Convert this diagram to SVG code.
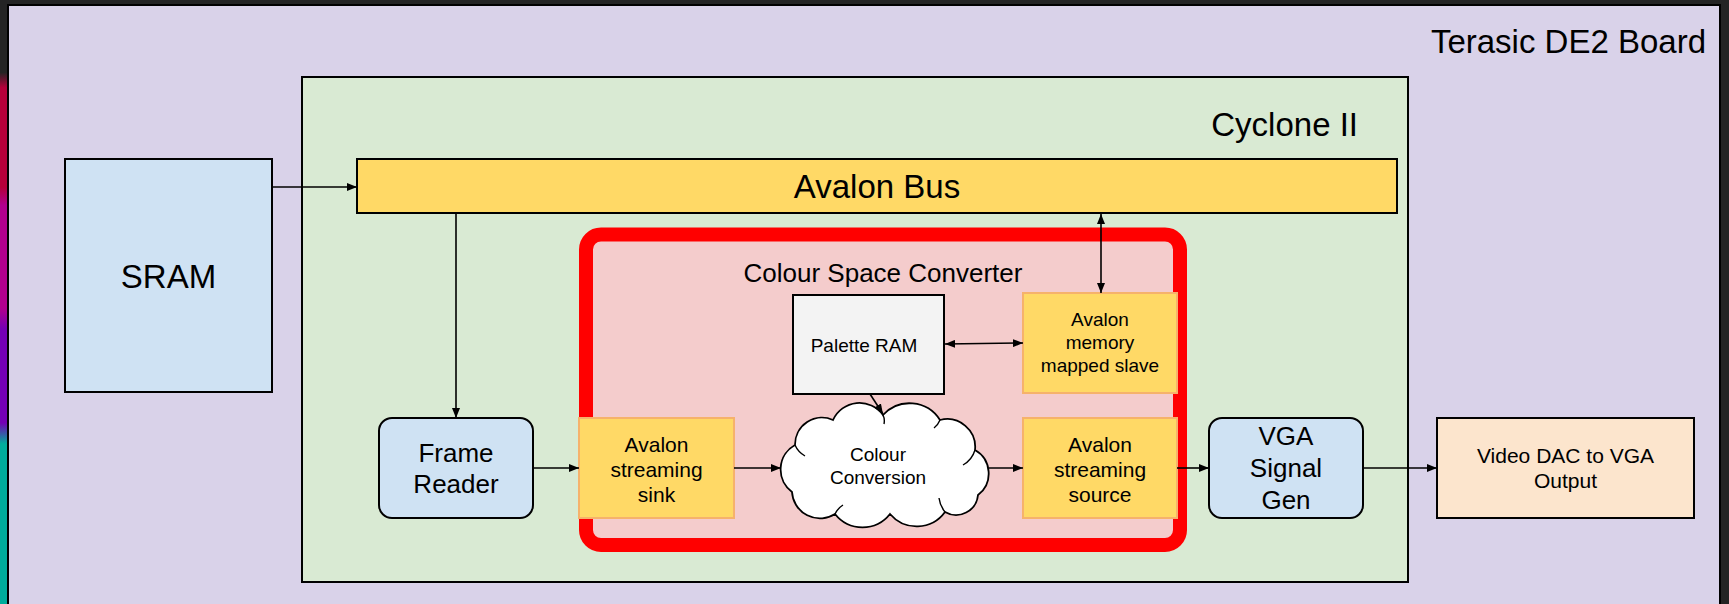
<svg xmlns="http://www.w3.org/2000/svg" width="1729" height="604" viewBox="0 0 1729 604">
<defs>
  <linearGradient id="strip" x1="0" y1="0" x2="0" y2="1">
    <stop offset="0" stop-color="#242424"/>
    <stop offset="0.12" stop-color="#242424"/>
    <stop offset="0.145" stop-color="#b5003a"/>
    <stop offset="0.31" stop-color="#b5003a"/>
    <stop offset="0.34" stop-color="#b2008e"/>
    <stop offset="0.51" stop-color="#b2008e"/>
    <stop offset="0.545" stop-color="#7400b4"/>
    <stop offset="0.70" stop-color="#7400b4"/>
    <stop offset="0.735" stop-color="#00ad9c"/>
    <stop offset="1" stop-color="#00ad9c"/>
  </linearGradient>
  <marker id="arr" viewBox="0 0 10 8" refX="10" refY="4" markerWidth="10" markerHeight="8" markerUnits="userSpaceOnUse" orient="auto-start-reverse">
    <path d="M0,0 L10,4 L0,8 z" fill="#000"/>
  </marker>
</defs>
<style>
  .t { font-family: "Liberation Sans", Arial, sans-serif; fill: #000; text-anchor: middle; }
  .box { stroke: #000; stroke-width: 2; }
  .blue { fill: #cfe2f3; }
  .yel { fill: #ffd966; }
  .ylo { fill: #ffd966; stroke: #f6b26b; stroke-width: 2; }
  .con { fill: none; stroke: #000; stroke-width: 1.6; }
</style>
<rect x="0" y="0" width="1729" height="604" fill="#242424"/>
<rect x="0" y="0" width="8" height="604" fill="url(#strip)"/>

<g id="board">
  <rect x="8" y="5" width="1712" height="620" fill="#d9d2e9" class="box"/>
  <text class="t" x="1706" y="53" font-size="33" style="text-anchor:end">Terasic DE2 Board</text>
</g>

<g id="cyclone">
  <rect x="302" y="77" width="1106" height="505" fill="#d9ead3" class="box"/>
  <text class="t" x="1358" y="136" font-size="33" style="text-anchor:end">Cyclone II</text>
</g>

<g id="sram">
  <rect x="65" y="159" width="207" height="233" class="box blue"/>
  <text class="t" x="168.5" y="288" font-size="33">SRAM</text>
</g>

<g id="avalon-bus">
  <rect x="357" y="159" width="1040" height="54" class="box yel"/>
  <text class="t" x="877" y="198" font-size="33">Avalon Bus</text>
</g>

<g id="csc">
  <rect x="586" y="234.5" width="594" height="310.5" rx="15" ry="15" fill="#f4cccc" stroke="#ff0000" stroke-width="14"/>
  <text class="t" x="883" y="282" font-size="26">Colour Space Converter</text>
</g>

<g id="palette-ram">
  <rect x="793" y="295" width="151" height="99" fill="#f3f3f3" class="box"/>
  <text class="t" x="864" y="352" font-size="19">Palette RAM</text>
</g>

<g id="mm-slave">
  <rect x="1023" y="293" width="154" height="100" class="ylo"/>
  <text class="t" x="1100" y="326" font-size="19">Avalon</text>
  <text class="t" x="1100" y="349" font-size="19">memory</text>
  <text class="t" x="1100" y="372" font-size="19">mapped slave</text>
</g>

<g id="frame-reader">
  <rect x="379" y="418" width="154" height="100" rx="13" ry="13" class="box blue"/>
  <text class="t" x="456" y="462" font-size="26">Frame</text>
  <text class="t" x="456" y="493" font-size="26">Reader</text>
</g>

<g id="st-sink">
  <rect x="579" y="418" width="155" height="100" class="ylo"/>
  <text class="t" x="656.5" y="452" font-size="21">Avalon</text>
  <text class="t" x="656.5" y="477" font-size="21">streaming</text>
  <text class="t" x="656.5" y="502" font-size="21">sink</text>
</g>

<g id="colour-conversion">
  <path d="M792,492 A28,28 0 0 1 795,445 A27,27 0 0 1 833,420 A29,29 0 0 1 883,415 A36,36 0 0 1 940,420 A28,28 0 0 1 975,450 A27,27 0 0 1 978,495 A22,22 0 0 1 945,512 A35,35 0 0 1 890,514 A35,35 0 0 1 835,514 A28,28 0 0 1 792,492 Z" fill="#ffffff" stroke="#000" stroke-width="1.8"/>
  <path d="M795,445 Q798,452 805,456 M883,415 Q885,419 884,424 M940,420 Q938,425 934,428 M975,450 Q972,460 963,465 M945,512 Q940,506 939,498 M835,514 Q838,508 843,505" fill="none" stroke="#000" stroke-width="1.4"/>
  <text class="t" x="878" y="461" font-size="19">Colour</text>
  <text class="t" x="878" y="484" font-size="19">Conversion</text>
</g>

<g id="st-source">
  <rect x="1023" y="418" width="154" height="100" class="ylo"/>
  <text class="t" x="1100" y="452" font-size="21">Avalon</text>
  <text class="t" x="1100" y="477" font-size="21">streaming</text>
  <text class="t" x="1100" y="502" font-size="21">source</text>
</g>

<g id="vga-gen">
  <rect x="1209" y="418" width="154" height="100" rx="13" ry="13" class="box blue"/>
  <text class="t" x="1286" y="445" font-size="26">VGA</text>
  <text class="t" x="1286" y="477" font-size="26">Signal</text>
  <text class="t" x="1286" y="509" font-size="26">Gen</text>
</g>

<g id="video-dac">
  <rect x="1437" y="418" width="257" height="100" fill="#fce5cd" class="box"/>
  <text class="t" x="1565.5" y="463" font-size="21">Video DAC to VGA</text>
  <text class="t" x="1565.5" y="488" font-size="21">Output</text>
</g>

<g id="connectors">
  <path class="con" d="M272,187 L357,187" marker-end="url(#arr)"/>
  <path class="con" d="M456,213 L456,418" marker-end="url(#arr)"/>
  <path class="con" d="M1101,214 L1101,293" marker-start="url(#arr)" marker-end="url(#arr)"/>
  <path class="con" d="M945,344 L1023,343" marker-start="url(#arr)" marker-end="url(#arr)"/>
  <path class="con" d="M870,394 L883,414" marker-end="url(#arr)"/>
  <path class="con" d="M533,468 L579,468" marker-end="url(#arr)"/>
  <path class="con" d="M734,468 L781,468" marker-end="url(#arr)"/>
  <path class="con" d="M989,468 L1023,468" marker-end="url(#arr)"/>
  <path class="con" d="M1177,468 L1209,468" marker-end="url(#arr)"/>
  <path class="con" d="M1363,468 L1437,468" marker-end="url(#arr)"/>
</g>
</svg>
